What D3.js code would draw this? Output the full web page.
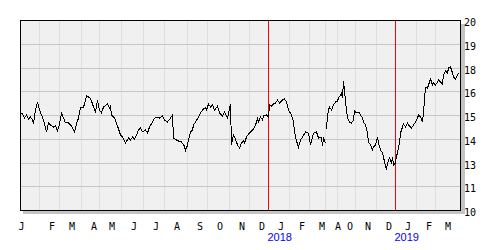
<!DOCTYPE html>
<html>
<head>
<meta charset="utf-8">
<script src="https://cdn.jsdelivr.net/npm/d3@7"></script>
<style>
  body { margin: 0; background: #fff; }
  svg { display: block; }
  .lbl { font-family: "DejaVu Sans Mono", monospace; font-size: 10px; fill: #000; }
  .year { font-family: "Liberation Sans", Arial, sans-serif; font-size: 11px; fill: #0000ff; }
</style>
</head>
<body>
<div id="chart"></div>
<script>
// x axis is trading-day index, one day per pixel
const monthLabels = ["J","F","M","A","M","J","J","A","S","O","N","D","J","F","M","A","O","N","D","J","F","M"];
const monthStart  = [0,19,39,61,79,101,123,144,167,187,209,229,248,269,289,305,317,335,356,375,396,415];
const yearLabels = ["2018", "2019"];
const yearStart  = [248, 375];

const yTicks      = [10, 11.25, 12.5, 13.75, 15, 16.25, 17.5, 18.75, 20];
const yTickLabels = ["10","11","13","14","15","16","18","19","20"];

// closing prices (day index / price), data gap between the two parts
const seg1Day = [0,2,4,6,8,10,12,13,15,17,19,21,23,26,28,30,33,35,37,39,41,43,45,48,51,54,56,58,60,63,64,66,68,70,73,75,77,79,81,83,87,89,90,91,94,97,100,102,105,108,110,112,114,116,118,120,122,125,127,129,132,134,137,139,142,144,147,150,152,153,156,158,161,163,164,165,167,168,170,172,173,175,178,180,183,185,186,188,190,192,194,197,199,202,204,207,210,211,213,214,216,217,219,221,223,224,226,228,230,233,235,237,238,240,242,243,246,248,249,251,253,255,257,259,262,264,266,268,271,273,274,276,278,280,282,285,288,290,293,296,298,301,302,303,305];
const seg1Close = [15.11,15.05,14.84,15.0,14.79,14.89,14.74,14.53,15.26,15.68,15.26,15.0,14.74,14.11,14.58,14.47,14.37,14.42,14.16,14.53,15.11,14.84,14.58,14.58,14.42,14.11,14.53,14.84,15.37,15.42,15.58,16.0,15.95,15.89,15.42,15.16,15.79,15.26,15.11,15.42,15.58,15.37,15.47,15.0,14.84,14.42,13.95,13.84,13.53,13.79,13.68,13.84,13.74,13.95,14.21,14.32,14.11,14.21,14.05,14.37,14.63,14.84,14.89,14.84,14.95,14.74,14.63,14.84,15.0,13.79,13.68,13.63,13.58,13.42,13.37,13.11,13.42,13.68,14.11,14.21,14.47,14.63,14.89,15.11,15.32,15.37,15.26,15.58,15.42,15.53,15.26,15.47,15.11,14.95,15.16,14.84,15.58,13.42,13.95,13.84,13.58,13.42,13.26,13.53,13.63,13.53,13.84,14.0,14.11,14.26,14.47,14.79,14.63,14.89,14.74,14.95,15.0,14.89,15.53,15.47,15.58,15.63,15.79,15.63,15.79,15.84,15.68,15.26,15.0,14.63,14.11,13.63,13.32,13.68,13.84,14.11,14.05,13.42,14.05,14.11,13.79,13.84,13.37,13.79,13.53];
const seg2Day = [306,307,308,309,311,313,315,317,318,320,321,322,323,324,325,326,327,329,331,333,334,335,337,339,340,342,343,345,347,348,350,352,353,355,357,358,360,362,363,364,366,367,369,371,372,373,375,376,377,379,380,382,383,385,387,388,391,393,395,397,398,400,402,403,404,405,407,408,410,412,413,415,417,418,420,422,423,425,427,428,430,432,433,435,437,438];
const seg2Close = [14.26,14.95,15.26,15.42,15.26,15.53,15.68,15.74,15.89,16.05,16.16,15.89,16.79,16.32,15.68,15.26,14.84,14.63,14.58,14.74,15.26,15.11,15.11,15.11,15.0,14.84,14.63,14.47,14.05,13.58,13.42,13.16,13.32,13.42,13.84,13.53,13.16,13.0,12.79,12.53,12.11,12.47,12.74,12.47,12.79,12.37,12.47,12.84,13.0,13.53,14.05,14.37,14.53,14.37,14.58,14.47,14.32,14.47,14.63,14.84,15.0,14.89,14.63,15.11,15.79,16.47,16.42,16.58,16.89,16.58,16.68,16.58,16.74,16.84,16.74,16.63,17.11,17.32,17.21,17.47,17.53,17.21,17.0,16.89,17.11,17.21];

const W = 500, H = 250;
const plot = {left: 20, right: 461, top: 20, bottom: 210};

const svg = d3.select("#chart").append("svg")
  .attr("width", W)
  .attr("height", H);

const x = d3.scaleLinear().domain([0, 441]).range([plot.left, plot.right]);
const y = d3.scaleLinear().domain([10, 20]).range([plot.bottom, plot.top]);
const px = v => Math.round(v) + 0.5;

// drop shadow
svg.append("rect").attr("x", plot.right).attr("y", plot.top + 4)
  .attr("width", 4).attr("height", plot.bottom - plot.top).attr("fill", "#c4c4c4");
svg.append("rect").attr("x", plot.left + 3).attr("y", plot.bottom + 1)
  .attr("width", plot.right - plot.left + 1).attr("height", 3).attr("fill", "#c4c4c4");

// background
svg.append("rect").attr("x", plot.left).attr("y", plot.top)
  .attr("width", plot.right - plot.left).attr("height", plot.bottom - plot.top)
  .attr("fill", "#f0f0f0");

// vertical month grid
svg.append("g").selectAll("line")
  .data(monthStart.slice(1))
  .join("line")
    .attr("x1", d => px(x(d))).attr("x2", d => px(x(d)))
    .attr("y1", plot.top).attr("y2", plot.bottom)
    .attr("stroke", "#dedede")
    .attr("shape-rendering", "crispEdges");

// horizontal grid
svg.append("g").selectAll("line")
  .data(yTicks.slice(1, -1))
  .join("line")
    .attr("x1", plot.left).attr("x2", plot.right)
    .attr("y1", d => px(y(d))).attr("y2", d => px(y(d)))
    .attr("stroke", "#c6c6c6")
    .attr("shape-rendering", "crispEdges");

// year separators
svg.append("g").selectAll("line")
  .data(yearStart)
  .join("line")
    .attr("x1", d => px(x(d))).attr("x2", d => px(x(d)))
    .attr("y1", plot.top).attr("y2", plot.bottom)
    .attr("stroke", "#ff0000")
    .attr("shape-rendering", "crispEdges");

// price line, aliased like the original
const line = d3.line()
  .x(d => x(d[0]) + 0.5)
  .y(d => y(d[1]));

[[seg1Day, seg1Close], [seg2Day, seg2Close]].forEach(([days, closes]) => {
  svg.append("path")
    .datum(d3.zip(days, closes))
    .attr("fill", "none")
    .attr("stroke", "#000")
    .attr("stroke-width", 1)
    .attr("shape-rendering", "crispEdges")
    .attr("d", line);
});

// frame
svg.append("rect")
  .attr("x", plot.left + 0.5).attr("y", plot.top + 0.5)
  .attr("width", plot.right - plot.left - 1).attr("height", plot.bottom - plot.top)
  .attr("fill", "none").attr("stroke", "#000")
  .attr("shape-rendering", "crispEdges");

// y labels on the right
const yAxis = d3.axisRight(y)
  .tickValues(yTicks)
  .tickSize(0)
  .tickPadding(0)
  .tickFormat((d, i) => yTickLabels[i]);

const gy = svg.append("g")
  .attr("transform", "translate(" + (plot.right + 3) + ",0)")
  .call(yAxis);
gy.select(".domain").remove();
gy.selectAll("text")
  .attr("class", "lbl")
  .attr("font-family", null).attr("font-size", null)
  .attr("dy", 5.5);

// month labels
svg.append("g").selectAll("text")
  .data(monthStart)
  .join("text")
    .attr("class", "lbl")
    .attr("text-anchor", "middle")
    .attr("x", (d, i) => i === 0 ? x(d) + 1.5 : x(d) + 13)
    .attr("y", 229.5)
    .text((d, i) => monthLabels[i]);

// year labels
svg.append("g").selectAll("text")
  .data(yearStart)
  .join("text")
    .attr("class", "year")
    .attr("x", d => x(d) - 0.5)
    .attr("y", 241)
    .text((d, i) => yearLabels[i]);
</script>
</body>
</html>
